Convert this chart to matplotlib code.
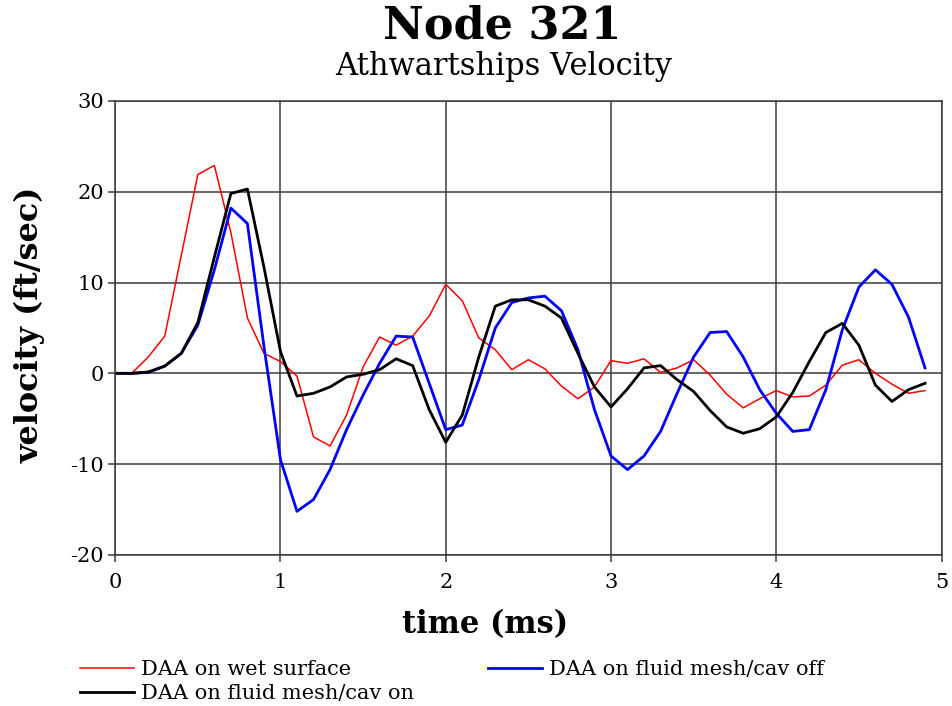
import numpy as np
import matplotlib
matplotlib.use('Agg')
import matplotlib.pyplot as plt

plt.rcParams['font.family'] = ['DejaVu Serif']

# time points (ms)
time = [round(0.1 * i, 1) for i in range(50)]

# DAA on wet surface
wet = [0.0, 0.0, 1.8, 4.1, 13.0, 21.9, 22.9, 15.5, 6.1, 2.2,
       1.3, -0.3, -7.0, -8.0, -4.6, 0.7, 4.0, 3.1, 4.1, 6.3,
       9.8, 8.0, 3.9, 2.6, 0.4, 1.5, 0.5, -1.4, -2.8, -1.5,
       1.4, 1.1, 1.6, 0.1, 0.6, 1.5, -0.2, -2.3, -3.8, -2.8,
       -1.9, -2.6, -2.5, -1.3, 0.9, 1.5, 0.0, -1.2, -2.2, -1.9]

# DAA on fluid mesh / cav off
cav_off = [0.0, 0.0, 0.1, 0.8, 2.2, 5.3, 11.4, 18.2, 16.5, 3.0,
           -9.5, -15.2, -13.9, -10.6, -6.2, -2.4, 1.1, 4.1, 4.0, -1.1,
           -6.2, -5.7, -0.7, 5.0, 7.8, 8.3, 8.5, 6.9, 2.6, -4.0,
           -9.1, -10.6, -9.1, -6.4, -2.2, 1.8, 4.5, 4.6, 1.8, -1.8,
           -4.4, -6.4, -6.2, -1.8, 4.8, 9.5, 11.4, 9.8, 6.2, 0.6]

# DAA on fluid mesh / cav on
cav_on = [0.0, 0.0, 0.15, 0.8, 2.2, 5.6, 12.8, 19.8, 20.3, 11.7,
          2.4, -2.5, -2.2, -1.5, -0.4, -0.1, 0.4, 1.6, 0.85, -4.0,
          -7.6, -4.6, 1.8, 7.4, 8.1, 8.1, 7.4, 6.1, 2.2, -1.5,
          -3.7, -1.7, 0.6, 0.85, -0.7, -2.0, -4.1, -5.9, -6.6, -6.1,
          -4.8, -2.1, 1.3, 4.5, 5.5, 3.1, -1.3, -3.1, -1.8, -1.1]

xticks = [0, 1, 2, 3, 4, 5]
yticks = [-20, -10, 0, 10, 20, 30]
ytick_labels = ['-20', '-10', '0', '10', '20', '30']

fig = plt.figure(figsize=(9.52, 7.06), dpi=100)
ax = fig.add_axes([0.121, 0.214, 0.868, 0.643])

l_wet, = ax.plot(time, wet, color='#ff0000', lw=1.1)
l_off, = ax.plot(time, cav_off, color='#0000ff', lw=2.0)
l_on, = ax.plot(time, cav_on, color='black', lw=2.0)

ax.set_xlim(0, 5)
ax.set_ylim(-20, 30)
ax.set_xticks(xticks)
ax.set_yticks(yticks)
ax.set_yticklabels(ytick_labels)
ax.grid(True, color='#3a3a3a', lw=1.1)
ax.tick_params(direction='out', length=5, width=1.1, labelsize=15, color='#3a3a3a')
ax.tick_params(axis='x', pad=8)
ax.tick_params(axis='y', pad=3)
for s in ax.spines.values():
    s.set_linewidth(1.1)
    s.set_color('#3a3a3a')

fig.text(0.528, 0.946, 'Node 321', ha='center', va='baseline', fontsize=32, fontweight='bold')
fig.text(0.529, 0.894, 'Athwartships Velocity', ha='center', va='baseline', fontsize=22)
fig.text(0.509, 0.103, 'time (ms)', ha='center', va='baseline', fontsize=22, fontweight='bold')
fig.text(0.032, 0.54, 'velocity (ft/sec)', ha='center', va='center', rotation=90,
         fontsize=23, fontweight='bold')

# legend entries placed as in the original layout
leg_kw = dict(loc='center left', frameon=False, bbox_transform=fig.transFigure,
              prop={'size': 15}, handlelength=2.6, handletextpad=0.35,
              borderpad=0, borderaxespad=0)
leg1 = ax.legend([l_wet], ['DAA on wet surface'], bbox_to_anchor=(0.084, 0.051), **leg_kw)
ax.add_artist(leg1)
leg2 = ax.legend([l_off], ['DAA on fluid mesh/cav off'], bbox_to_anchor=(0.5126, 0.051), **leg_kw)
ax.add_artist(leg2)
ax.legend([l_on], ['DAA on fluid mesh/cav on'], bbox_to_anchor=(0.084, 0.018), **leg_kw)

fig.savefig('out.png', dpi=100)
